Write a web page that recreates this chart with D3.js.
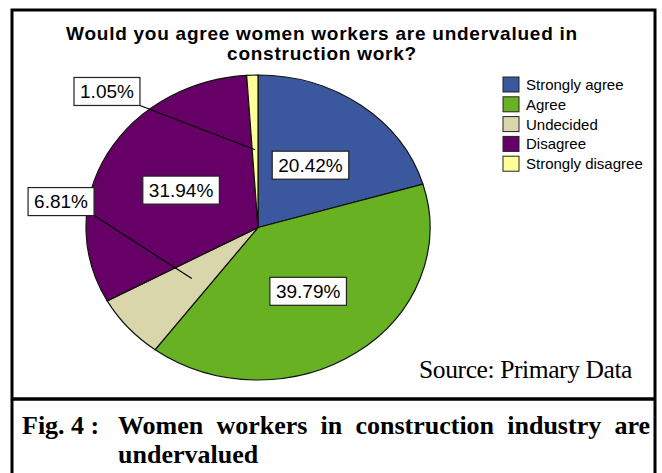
<!DOCTYPE html>
<html>
<head>
<meta charset="utf-8">
<script src="https://cdn.jsdelivr.net/npm/d3@7"></script>
<style>
  body { margin: 0; background: #fff; }
  svg { display: block; }
</style>
</head>
<body>
<div id="chart"></div>
<script>
// data
var categories = ["Strongly agree", "Agree", "Undecided", "Disagree", "Strongly disagree"];
var values = [20.42, 39.79, 6.81, 31.94, 1.05];
var colors = ["#3b579e", "#67b123", "#d9d6ac", "#660066", "#ffff99"];

var title_lines = ["Would you agree women workers are undervalued in", "construction work?"];
var source_text = "Source: Primary Data";
var caption_head = "Fig. 4 :";
var caption_words = ["Women", "workers", "in", "construction", "industry", "are"];
var caption_line2 = "undervalued";

var width = 662, height = 473;

// pie is drawn a bit squashed, like the original
var cx = 258, cy = 227.5;
var rx = 172, ry = 152.5;

// labels that were dragged outside the pie (offset from centre in radius units)
var moved = { "Undecided": [-1.145, -0.17], "Strongly disagree": [-0.878, -0.892] };

var svg = d3.select("#chart").append("svg")
    .attr("width", width)
    .attr("height", height);

// frame
svg.append("rect")
    .attr("x", 12).attr("y", 10)
    .attr("width", 643).attr("height", 480)
    .attr("fill", "none")
    .attr("stroke", "#000")
    .attr("stroke-width", 3);

svg.append("line")
    .attr("x1", 12).attr("x2", 655)
    .attr("y1", 399).attr("y2", 399)
    .attr("stroke", "#000")
    .attr("stroke-width", 3.5);

// title
svg.append("g").selectAll("text")
  .data(title_lines)
  .enter().append("text")
    .attr("x", 322)
    .attr("y", function(d, i) { return 39.5 + i * 20; })
    .attr("text-anchor", "middle")
    .style("font-family", "Liberation Sans, Arial, sans-serif")
    .style("font-weight", "bold")
    .style("font-size", "19px")
    .style("letter-spacing", "0.75px")
    .text(function(d) { return d; });

// pie
var pie = d3.pie().sort(null).value(function(d) { return d; });
var arcs = pie(values);
var arc = d3.arc().innerRadius(0).outerRadius(rx);

var pieG = svg.append("g")
    .attr("transform", "translate(" + cx + "," + cy + ") scale(1," + (ry / rx) + ")");

pieG.selectAll("path")
  .data(arcs)
  .enter().append("path")
    .attr("d", arc)
    .attr("fill", function(d, i) { return colors[i]; })
    .attr("stroke", "#111")
    .attr("stroke-width", 1.2)
    .attr("vector-effect", "non-scaling-stroke");

// label helpers
var labelArc = d3.arc().innerRadius(0).outerRadius(rx * 1.02);
function project(p) { return [cx + p[0], cy + p[1] * ry / rx]; }

var labG = svg.append("g");

arcs.forEach(function(d, i) {
  var txt = values[i].toFixed(2) + "%";
  var anchor = project(labelArc.centroid(d));
  var pos = anchor;
  var off = moved[categories[i]];
  if (off) pos = [cx + off[0] * rx, cy + off[1] * ry];

  var g = labG.append("g");
  var t = g.append("text")
      .attr("x", pos[0])
      .attr("y", pos[1])
      .attr("dy", "0.36em")
      .attr("text-anchor", "middle")
      .style("font-family", "Liberation Sans, Arial, sans-serif")
      .style("font-size", "19px")
      .text(txt);
  var bb = t.node().getBBox();
  var bw = bb.width + 12, bh = 28;
  var bx = pos[0] - bw / 2, by = pos[1] - bh / 2;

  if (off) {
    g.insert("line", "text")
        .attr("x1", bx + bw).attr("y1", by + bh)
        .attr("x2", anchor[0]).attr("y2", anchor[1])
        .attr("stroke", "#000")
        .attr("stroke-width", 1.2);
  }
  g.insert("rect", "text")
      .attr("x", bx).attr("y", by)
      .attr("width", bw).attr("height", bh)
      .attr("fill", "#fff")
      .attr("stroke", "#222")
      .attr("stroke-width", 1.2);
});

// legend
var legend = svg.append("g")
  .selectAll("g")
  .data(categories)
  .enter().append("g")
    .attr("transform", function(d, i) { return "translate(503," + (77 + i * 19.8) + ")"; });

legend.append("rect")
    .attr("width", 16).attr("height", 15)
    .attr("fill", function(d, i) { return colors[i]; })
    .attr("stroke", "#222")
    .attr("stroke-width", 1);

legend.append("text")
    .attr("x", 23)
    .attr("y", 7.5)
    .attr("dy", "0.36em")
    .style("font-family", "Liberation Sans, Arial, sans-serif")
    .style("font-size", "15px")
    .text(function(d) { return d; });

// source note
svg.append("text")
    .attr("x", 632)
    .attr("y", 378)
    .attr("text-anchor", "end")
    .style("font-family", "Liberation Serif, Times New Roman, serif")
    .style("font-size", "25.5px")
    .style("letter-spacing", "-0.4px")
    .text(source_text);

// caption, justified first line
var capFont = { family: "Liberation Serif, Times New Roman, serif", size: "26px" };
svg.append("text")
    .attr("x", 22).attr("y", 434)
    .style("font-family", capFont.family)
    .style("font-size", capFont.size)
    .style("font-weight", "bold")
    .text(caption_head);

var capG = svg.append("g");
var wordNodes = capG.selectAll("text")
  .data(caption_words)
  .enter().append("text")
    .attr("y", 434)
    .style("font-family", capFont.family)
    .style("font-size", capFont.size)
    .style("font-weight", "bold")
    .text(function(d) { return d; });

var widths = [];
wordNodes.each(function() { widths.push(this.getComputedTextLength()); });
var left = 118, right = 650;
var gap = (right - left - d3.sum(widths)) / (widths.length - 1);
var xpos = left;
wordNodes.attr("x", function(d, i) { var x = xpos; xpos += widths[i] + gap; return x; });

svg.append("text")
    .attr("x", 118).attr("y", 463)
    .style("font-family", capFont.family)
    .style("font-size", capFont.size)
    .style("font-weight", "bold")
    .text(caption_line2);
</script>
</body>
</html>
